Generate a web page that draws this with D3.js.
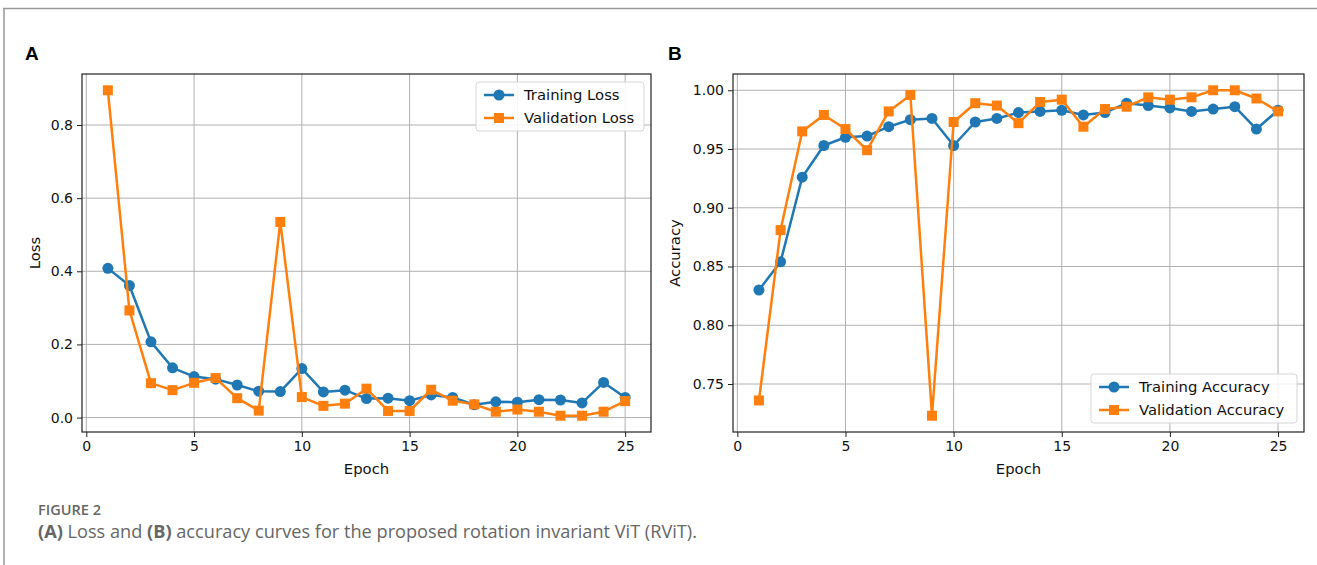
<!DOCTYPE html>
<html>
<head>
<meta charset="utf-8">
<script src="https://cdn.jsdelivr.net/npm/d3@7"></script>
<style>
	body { margin: 0; background: #fff; }
	svg { display: block; }
	.tick text { font-family: 'DejaVu Sans', sans-serif; font-size: 14px; fill: #111; }
	.lbl { font-family: 'DejaVu Sans', sans-serif; font-size: 14.8px; fill: #111; }
	.cap { font-family: 'Open Sans', sans-serif; fill: #666; }
</style>
</head>
<body>
<svg id="fig"></svg>
<script>
const epochs = d3.range(1, 26)

const trainLoss = [0.408, 0.361, 0.207, 0.136, 0.112, 0.105, 0.089, 0.072, 0.071, 0.134,
	0.070, 0.075, 0.052, 0.053, 0.046, 0.062, 0.055, 0.035, 0.043, 0.042,
	0.049, 0.048, 0.040, 0.096, 0.055]
const valLoss = [0.895, 0.293, 0.094, 0.075, 0.095, 0.108, 0.053, 0.019, 0.535, 0.056,
	0.032, 0.038, 0.079, 0.018, 0.018, 0.076, 0.046, 0.036, 0.016, 0.022,
	0.016, 0.005, 0.005, 0.016, 0.045]

const trainAcc = [0.830, 0.854, 0.926, 0.953, 0.960, 0.961, 0.969, 0.975, 0.976, 0.953,
	0.973, 0.976, 0.981, 0.982, 0.983, 0.979, 0.981, 0.989, 0.987, 0.985,
	0.982, 0.984, 0.986, 0.967, 0.983]
const valAcc = [0.736, 0.881, 0.965, 0.979, 0.967, 0.949, 0.982, 0.996, 0.723, 0.973,
	0.989, 0.987, 0.972, 0.990, 0.992, 0.969, 0.984, 0.986, 0.994, 0.992,
	0.994, 1.000, 1.000, 0.993, 0.982]

const xTicks = [0, 5, 10, 15, 20, 25]
const lossTicks = [0.0, 0.2, 0.4, 0.6, 0.8]
const accTicks = [0.75, 0.80, 0.85, 0.90, 0.95, 1.00]

const blue = '#1f77b4'
const orange = '#ff7f0e'

const W = 1317, H = 565
const svg = d3.select('#fig').attr('width', W).attr('height', H)

// page frame
svg.append('line').attr('x1', 3).attr('x2', W).attr('y1', 8.5).attr('y2', 8.5)
	.attr('stroke', '#999').attr('stroke-width', 1.5)
svg.append('line').attr('x1', 4).attr('x2', 4).attr('y1', 8).attr('y2', H)
	.attr('stroke', '#999').attr('stroke-width', 1.5)

function pad(lo, hi) {
	const m = (hi - lo) * 0.05
	return [lo - m, hi + m]
}

function createPanel(opts) {
	const { left, right, top, bottom } = opts
	const g = svg.append('g')

	const x = d3.scaleLinear().domain(pad(1, 25)).range([left, right])
	const allY = opts.series.flatMap(s => s.values)
	const y = d3.scaleLinear().domain(pad(d3.min(allY), d3.max(allY))).range([bottom, top])

	// grid
	g.append('g').selectAll('line').data(opts.xTicks).join('line')
		.attr('x1', d => x(d)).attr('x2', d => x(d))
		.attr('y1', top).attr('y2', bottom)
		.attr('stroke', '#b0b0b0').attr('stroke-width', 1)
	g.append('g').selectAll('line').data(opts.yTicks).join('line')
		.attr('x1', left).attr('x2', right)
		.attr('y1', d => y(d)).attr('y2', d => y(d))
		.attr('stroke', '#b0b0b0').attr('stroke-width', 1)

	// axes
	const xAxis = d3.axisBottom(x).tickValues(opts.xTicks).tickFormat(d3.format('d'))
		.tickSize(5).tickPadding(4)
	const yAxis = d3.axisLeft(y).tickValues(opts.yTicks).tickFormat(d3.format(opts.yFmt))
		.tickSize(5).tickPadding(4)
	g.append('g').attr('transform', `translate(0,${bottom})`).call(xAxis)
		.call(a => a.select('.domain').remove())
		.selectAll('line').attr('stroke', '#222')
	g.append('g').attr('transform', `translate(${left},0)`).call(yAxis)
		.call(a => a.select('.domain').remove())
		.selectAll('line').attr('stroke', '#222')

	// series
	const line = d3.line().x((d, i) => x(epochs[i])).y(d => y(d))
	opts.series.forEach(s => {
		g.append('path').datum(s.values)
			.attr('d', line).attr('fill', 'none')
			.attr('stroke', s.color).attr('stroke-width', 2.5)
			.attr('stroke-linejoin', 'round')
		const pts = g.append('g').selectAll('.m').data(s.values)
		if (s.marker === 'circle') {
			pts.join('circle')
				.attr('cx', (d, i) => x(epochs[i])).attr('cy', d => y(d))
				.attr('r', 5.5).attr('fill', s.color)
		} else {
			pts.join('rect')
				.attr('x', (d, i) => x(epochs[i]) - 5).attr('y', d => y(d) - 5)
				.attr('width', 10).attr('height', 10).attr('fill', s.color)
		}
	})

	// frame
	g.append('rect').attr('x', left).attr('y', top)
		.attr('width', right - left).attr('height', bottom - top)
		.attr('fill', 'none').attr('stroke', '#222').attr('stroke-width', 1.2)

	// axis labels
	g.append('text').attr('class', 'lbl')
		.attr('x', (left + right) / 2).attr('y', bottom + 42)
		.attr('text-anchor', 'middle').text('Epoch')
	g.append('text').attr('class', 'lbl')
		.attr('transform', `translate(${opts.yLabelX},${(top + bottom) / 2}) rotate(-90)`)
		.attr('text-anchor', 'middle').text(opts.yLabel)

	// panel letter
	svg.append('text').attr('x', opts.letterX).attr('y', 60)
		.attr('font-family', 'Liberation Sans, Arial, sans-serif')
		.attr('font-weight', 'bold').attr('font-size', 19).attr('fill', '#000')
		.text(opts.letter)

	// legend
	const lg = g.append('g').attr('transform', `translate(${opts.legend.x},${opts.legend.y})`)
	lg.append('rect').attr('width', opts.legend.w).attr('height', 49)
		.attr('rx', 3).attr('fill', '#fff').attr('fill-opacity', 0.85)
		.attr('stroke', '#d6d6d6')
	opts.series.forEach((s, i) => {
		const cy = 13 + i * 23
		lg.append('line').attr('x1', 8).attr('x2', 38).attr('y1', cy).attr('y2', cy)
			.attr('stroke', s.color).attr('stroke-width', 2.5)
		if (s.marker === 'circle') {
			lg.append('circle').attr('cx', 23).attr('cy', cy).attr('r', 5.5).attr('fill', s.color)
		} else {
			lg.append('rect').attr('x', 18).attr('y', cy - 5).attr('width', 10).attr('height', 10)
				.attr('fill', s.color)
		}
		lg.append('text').attr('class', 'lbl').attr('x', 48).attr('y', cy + 5).text(s.name)
	})
}

createPanel({
	left: 82, right: 651, top: 74, bottom: 432,
	xTicks, yTicks: lossTicks, yFmt: '.1f', yLabel: 'Loss', yLabelX: 40,
	letter: 'A', letterX: 25,
	legend: { x: 476, y: 82, w: 168 },
	series: [
		{ name: 'Training Loss', values: trainLoss, color: blue, marker: 'circle' },
		{ name: 'Validation Loss', values: valLoss, color: orange, marker: 'square' },
	],
})

createPanel({
	left: 733, right: 1304, top: 74, bottom: 432,
	xTicks, yTicks: accTicks, yFmt: '.2f', yLabel: 'Accuracy', yLabelX: 680,
	letter: 'B', letterX: 668,
	legend: { x: 1091, y: 374, w: 206 },
	series: [
		{ name: 'Training Accuracy', values: trainAcc, color: blue, marker: 'circle' },
		{ name: 'Validation Accuracy', values: valAcc, color: orange, marker: 'square' },
	],
})

// caption
svg.append('text').attr('class', 'cap').attr('x', 38).attr('y', 515)
	.attr('font-size', 14).attr('font-weight', 600).attr('fill', '#808080')
	.attr('textLength', 63).attr('lengthAdjust', 'spacingAndGlyphs').text('FIGURE 2')
const cap = svg.append('text').attr('class', 'cap').attr('x', 38).attr('y', 538)
	.attr('font-size', 17.5).attr('fill', '#666')
	.attr('textLength', 659).attr('lengthAdjust', 'spacingAndGlyphs')
cap.append('tspan').attr('font-weight', 'bold').text('(A)')
cap.append('tspan').text(' Loss and ')
cap.append('tspan').attr('font-weight', 'bold').text('(B)')
cap.append('tspan').text(' accuracy curves for the proposed rotation invariant ViT (RViT).')
</script>
</body>
</html>
